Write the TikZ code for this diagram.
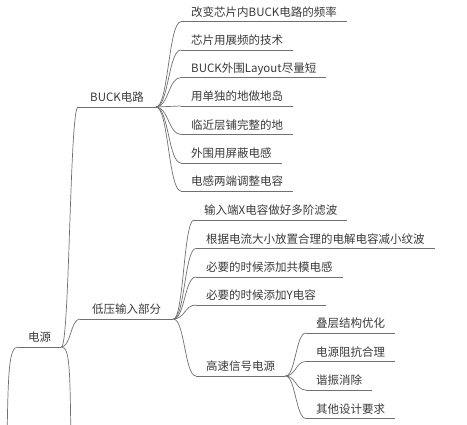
\documentclass[tikz,border=0pt]{standalone}
\usepackage{fontspec}
\setmainfont{Noto Sans CJK SC}
\usetikzlibrary{calc}
\definecolor{txt}{HTML}{3A3A3A}
\definecolor{ln}{HTML}{707070}
\tikzset{
  item/.style={anchor=south west, inner xsep=10pt, inner ysep=3.2pt, text height=9pt, text depth=2pt,
    font=\fontsize{11.5pt}{13pt}\selectfont, text=txt},
  ul/.style={draw=ln, line width=0.7pt},
  branch/.style={draw=ln, line width=0.7pt, to path={let \p1=(\tikztostart), \p2=(\tikztotarget) in
     .. controls ({0.5*\x1+0.5*\x2},\y1) and ({0.5*\x1+0.5*\x2},\y2) .. (\tikztotarget)}},
}
\begin{document}
\begin{tikzpicture}[x=1pt,y=-1pt]
\useasboundingbox (0,0) rectangle (467,425);
\clip (0,0) rectangle (467,425);
% root
\node[item, inner xsep=10pt] (root) at (18,347) {电源};
% level 1
\node[item, inner xsep=12pt] (buck) at (78,107) {BUCK电路};
\node[item, inner xsep=12pt] (lv) at (80,319) {低压输入部分};
% BUCK children
\node[item] (b1) at (181,21.7) {改变芯片内BUCK电路的频率};
\node[item] (b2) at (181,50) {芯片用展频的技术};
\node[item] (b3) at (181,77.5) {BUCK外围Layout尽量短};
\node[item] (b4) at (181,106) {用单独的地做地岛};
\node[item] (b5) at (181,134.5) {临近层铺完整的地};
\node[item] (b6) at (181,163) {外围用屏蔽电感};
\node[item] (b7) at (181,191) {电感两端调整电容};
% low voltage children
\node[item] (l1) at (194,220) {输入端X电容做好多阶滤波};
\node[item] (l2) at (196,248.5) {根据电流大小放置合理的电解电容减小纹波};
\node[item] (l3) at (196,277) {必要的时候添加共模电感};
\node[item] (l4) at (196,305) {必要的时候添加Y电容};
\node[item] (hs) at (196,376) {高速信号电源};
% high speed children
\node[item] (h1) at (306,333) {叠层结构优化};
\node[item] (h2) at (306,361.5) {电源阻抗合理};
\node[item] (h3) at (306,390) {谐振消除};
\node[item] (h4) at (306,418.5) {其他设计要求};
% off-image ends
\coordinate (offL) at (7,445);
\coordinate (offR) at (71,445);
% underlines
\foreach \nd in {root,buck,lv,b1,b2,b3,b4,b5,b6,b7,l1,l2,l3,l4,hs,h1,h2,h3,h4}
  \draw[ul] (\nd.south west) -- (\nd.south east);
% connectors
\draw[ul] (root.south west) .. controls (9,347) and (8,370) .. (offL);
\draw[ul] (root.south east) .. controls (70,347) and (70,370) .. (offR);
\path[branch] (root.south east) to (buck.south west);
\path[branch] (root.south east) to (lv.south west);
\foreach \nd in {b1,b2,b3,b4,b5,b6,b7}
  \path[branch] (buck.south east) to (\nd.south west);
\foreach \nd in {l1,l2,l3,l4,hs}
  \path[branch] (lv.south east) to (\nd.south west);
\foreach \nd in {h1,h2,h3,h4}
  \path[branch] (hs.south east) to (\nd.south west);
\end{tikzpicture}
\end{document}
